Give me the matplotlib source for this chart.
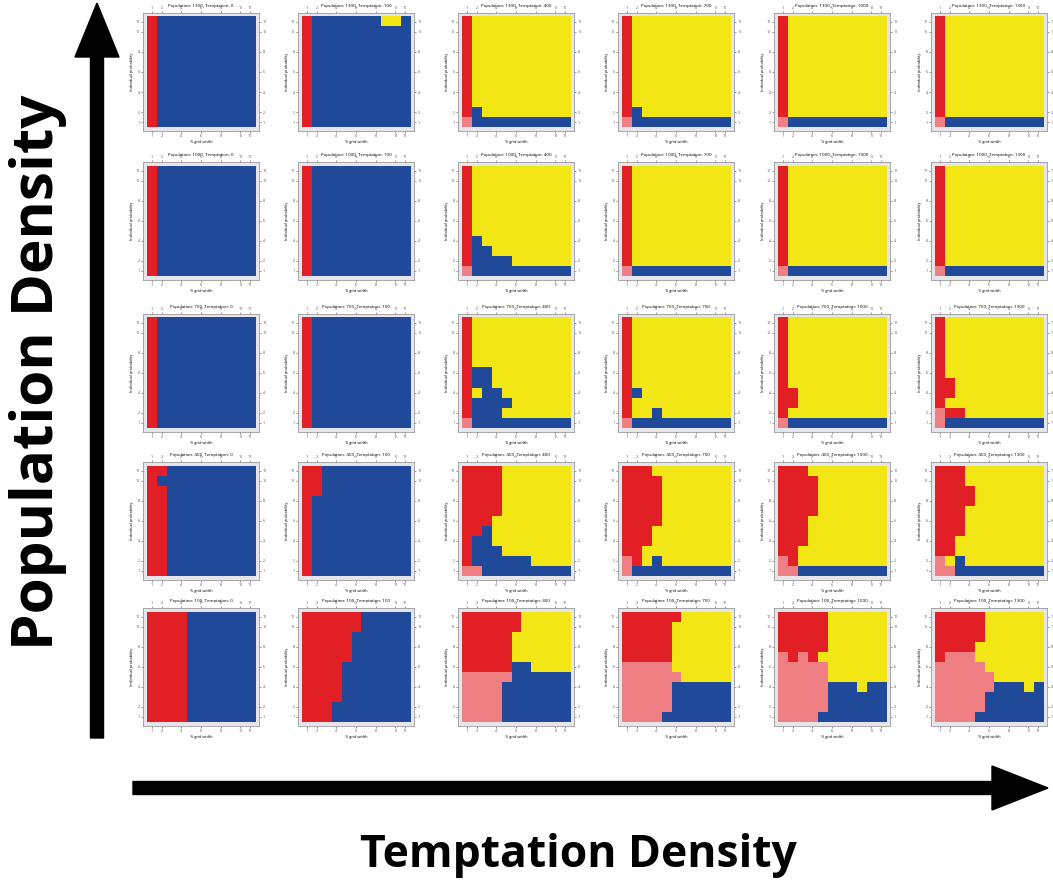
import numpy as np
import matplotlib
matplotlib.use("Agg")
import matplotlib.pyplot as plt
from matplotlib.colors import ListedColormap
from matplotlib.patches import FancyArrow

# Outcome maps: 11 rows (top to bottom) of 11 cells, rows split by "/"
# B = blue, Y = yellow, R = red, P = pink
populations = [1300, 1000, 700, 400, 100]
temptations = [0, 100, 400, 700, 1000, 1300]

maps_pop1300 = [
    "RBBBBBBBBBB/RBBBBBBBBBB/RBBBBBBBBBB/RBBBBBBBBBB/RBBBBBBBBBB/RBBBBBBBBBB/RBBBBBBBBBB/RBBBBBBBBBB/RBBBBBBBBBB/RBBBBBBBBBB/RBBBBBBBBBB",
    "RBBBBBBBYYB/RBBBBBBBBBB/RBBBBBBBBBB/RBBBBBBBBBB/RBBBBBBBBBB/RBBBBBBBBBB/RBBBBBBBBBB/RBBBBBBBBBB/RBBBBBBBBBB/RBBBBBBBBBB/RBBBBBBBBBB",
    "RYYYYYYYYYY/RYYYYYYYYYY/RYYYYYYYYYY/RYYYYYYYYYY/RYYYYYYYYYY/RYYYYYYYYYY/RYYYYYYYYYY/RYYYYYYYYYY/RYYYYYYYYYY/RBYYYYYYYYY/PBBBBBBBBBB",
    "RYYYYYYYYYY/RYYYYYYYYYY/RYYYYYYYYYY/RYYYYYYYYYY/RYYYYYYYYYY/RYYYYYYYYYY/RYYYYYYYYYY/RYYYYYYYYYY/RYYYYYYYYYY/RBYYYYYYYYY/PBBBBBBBBBB",
    "RYYYYYYYYYY/RYYYYYYYYYY/RYYYYYYYYYY/RYYYYYYYYYY/RYYYYYYYYYY/RYYYYYYYYYY/RYYYYYYYYYY/RYYYYYYYYYY/RYYYYYYYYYY/RYYYYYYYYYY/PBBBBBBBBBB",
    "RYYYYYYYYYY/RYYYYYYYYYY/RYYYYYYYYYY/RYYYYYYYYYY/RYYYYYYYYYY/RYYYYYYYYYY/RYYYYYYYYYY/RYYYYYYYYYY/RYYYYYYYYYY/RYYYYYYYYYY/PBBBBBBBBBB",
]
maps_pop1000 = [
    "RBBBBBBBBBB/RBBBBBBBBBB/RBBBBBBBBBB/RBBBBBBBBBB/RBBBBBBBBBB/RBBBBBBBBBB/RBBBBBBBBBB/RBBBBBBBBBB/RBBBBBBBBBB/RBBBBBBBBBB/RBBBBBBBBBB",
    "RBBBBBBBBBB/RBBBBBBBBBB/RBBBBBBBBBB/RBBBBBBBBBB/RBBBBBBBBBB/RBBBBBBBBBB/RBBBBBBBBBB/RBBBBBBBBBB/RBBBBBBBBBB/RBBBBBBBBBB/RBBBBBBBBBB",
    "RYYYYYYYYYY/RYYYYYYYYYY/RYYYYYYYYYY/RYYYYYYYYYY/RYYYYYYYYYY/RYYYYYYYYYY/RYYYYYYYYYY/RBYYYYYYYYY/RBBYYYYYYYY/RBBBBYYYYYY/PBBBBBBBBBB",
    "RYYYYYYYYYY/RYYYYYYYYYY/RYYYYYYYYYY/RYYYYYYYYYY/RYYYYYYYYYY/RYYYYYYYYYY/RYYYYYYYYYY/RYYYYYYYYYY/RYYYYYYYYYY/RYYYYYYYYYY/PBBBBBBBBBB",
    "RYYYYYYYYYY/RYYYYYYYYYY/RYYYYYYYYYY/RYYYYYYYYYY/RYYYYYYYYYY/RYYYYYYYYYY/RYYYYYYYYYY/RYYYYYYYYYY/RYYYYYYYYYY/RYYYYYYYYYY/PBBBBBBBBBB",
    "RYYYYYYYYYY/RYYYYYYYYYY/RYYYYYYYYYY/RYYYYYYYYYY/RYYYYYYYYYY/RYYYYYYYYYY/RYYYYYYYYYY/RYYYYYYYYYY/RYYYYYYYYYY/RYYYYYYYYYY/PBBBBBBBBBB",
]
maps_pop700 = [
    "RBBBBBBBBBB/RBBBBBBBBBB/RBBBBBBBBBB/RBBBBBBBBBB/RBBBBBBBBBB/RBBBBBBBBBB/RBBBBBBBBBB/RBBBBBBBBBB/RBBBBBBBBBB/RBBBBBBBBBB/RBBBBBBBBBB",
    "RBBBBBBBBBB/RBBBBBBBBBB/RBBBBBBBBBB/RBBBBBBBBBB/RBBBBBBBBBB/RBBBBBBBBBB/RBBBBBBBBBB/RBBBBBBBBBB/RBBBBBBBBBB/RBBBBBBBBBB/RBBBBBBBBBB",
    "RYYYYYYYYYY/RYYYYYYYYYY/RYYYYYYYYYY/RYYYYYYYYYY/RYYYYYYYYYY/RBBYYYYYYYY/RBBYYYYYYYY/RYBBYYYYYYY/RBBBBYYYYYY/RBBBYYYYYYY/PBBBBBBBBBB",
    "RYYYYYYYYYY/RYYYYYYYYYY/RYYYYYYYYYY/RYYYYYYYYYY/RYYYYYYYYYY/RYYYYYYYYYY/RYYYYYYYYYY/RBYYYYYYYYY/RYYYYYYYYYY/RYYBYYYYYYY/PBBBBBBBBBB",
    "RYYYYYYYYYY/RYYYYYYYYYY/RYYYYYYYYYY/RYYYYYYYYYY/RYYYYYYYYYY/RYYYYYYYYYY/RYYYYYYYYYY/RRYYYYYYYYY/RRYYYYYYYYY/RYYYYYYYYYY/PBBBBBBBBBB",
    "RYYYYYYYYYY/RYYYYYYYYYY/RYYYYYYYYYY/RYYYYYYYYYY/RYYYYYYYYYY/RYYYYYYYYYY/RRYYYYYYYYY/RRYYYYYYYYY/RYYYYYYYYYY/PRRYYYYYYYY/PBBBBBBBBBB",
]
maps_pop400 = [
    "RRBBBBBBBBB/RBBBBBBBBBB/RRBBBBBBBBB/RRBBBBBBBBB/RRBBBBBBBBB/RRBBBBBBBBB/RRBBBBBBBBB/RRBBBBBBBBB/RRBBBBBBBBB/RRBBBBBBBBB/RRBBBBBBBBB",
    "RRBBBBBBBBB/RRBBBBBBBBB/RRBBBBBBBBB/RBBBBBBBBBB/RBBBBBBBBBB/RBBBBBBBBBB/RBBBBBBBBBB/RBBBBBBBBBB/RBBBBBBBBBB/RBBBBBBBBBB/RBBBBBBBBBB",
    "RRRRYYYYYYY/RRRRYYYYYYY/RRRRYYYYYYY/RRRRYYYYYYY/RRRRYYYYYYY/RRRYYYYYYYY/RRBYYYYYYYY/RBBYYYYYYYY/RBBBYYYYYYY/RBBBBBBYYYY/PPBBBBBBBBB",
    "RRRYYYYYYYY/RRRRYYYYYYY/RRRRYYYYYYY/RRRRYYYYYYY/RRRRYYYYYYY/RRRRYYYYYYY/RRRYYYYYYYY/RRRYYYYYYYY/RRYYYYYYYYY/PRYBYYYYYYY/PBBBBBBBBBB",
    "RRRYYYYYYYY/RRRRYYYYYYY/RRRRYYYYYYY/RRRRYYYYYYY/RRRRYYYYYYY/RRRYYYYYYYY/RRRYYYYYYYY/RRRYYYYYYYY/RRYYYYYYYYY/PRYYYYYYYYY/PPBBBBBBBBB",
    "RRRYYYYYYYY/RRRYYYYYYYY/RRRRYYYYYYY/RRRRYYYYYYY/RRRYYYYYYYY/RRRYYYYYYYY/RRRYYYYYYYY/RRYYYYYYYYY/RRYYYYYYYYY/PYBYYYYYYYY/PPBBBBBBBBB",
]
maps_pop100 = [
    "RRRRBBBBBBB/RRRRBBBBBBB/RRRRBBBBBBB/RRRRBBBBBBB/RRRRBBBBBBB/RRRRBBBBBBB/RRRRBBBBBBB/RRRRBBBBBBB/RRRRBBBBBBB/RRRRBBBBBBB/RRRRBBBBBBB",
    "RRRRRRBBBBB/RRRRRRBBBBB/RRRRRBBBBBB/RRRRRBBBBBB/RRRRRBBBBBB/RRRRBBBBBBB/RRRRBBBBBBB/RRRRBBBBBBB/RRRRBBBBBBB/RRRBBBBBBBB/RRRBBBBBBBB",
    "RRRRRRYYYYY/RRRRRRYYYYY/RRRRRYYYYYY/RRRRRYYYYYY/RRRRRYYYYYY/RRRRRBBYYYY/PPPPPBBBBBB/PPPPBBBBBBB/PPPPBBBBBBB/PPPPBBBBBBB/PPPPBBBBBBB",
    "RRRRRRYYYYY/RRRRRYYYYYY/RRRRRYYYYYY/RRRRRYYYYYY/RRRRRYYYYYY/PPPPPYYYYYY/PPPPPPYYYYY/PPPPPBBBBBB/PPPPPBBBBBB/PPPPPBBBBBB/PPPPBBBBBBB",
    "RRRRRYYYYYY/RRRRRYYYYYY/RRRRRYYYYYY/RRRRRYYYYYY/PRPRYYYYYYY/PPPPPYYYYYY/PPPPPYYYYYY/PPPPPBBBYBB/PPPPPBBBBBB/PPPPPBBBBBB/PPPPBBBBBBB",
    "RRRRRYYYYYY/RRRRRYYYYYY/RRRRRYYYYYY/RRRRYYYYYYY/RPPPYYYYYYY/PPPPPYYYYYY/PPPPPPYYYYY/PPPPPPBBBYB/PPPPPBBBBBB/PPPPPBBBBBB/PPPPBBBBBBB",
]
all_maps = [maps_pop1300, maps_pop1000, maps_pop700, maps_pop400, maps_pop100]

codes = {"B": 0, "Y": 1, "R": 2, "P": 3}
cmap = ListedColormap(["#21499a", "#f2e614", "#e31f26", "#ef7f82"])
tick_cells = [0, 1, 3, 5, 7, 9, 10]
tick_labels = ["1", "2", "4", "6", "8", "10", "11"]

W, H = 1053, 883
fig = plt.figure(figsize=(W / 100, H / 100), dpi=100)
plt.rcParams["font.family"] = ["Open Sans", "DejaVu Sans"]

# panel frame positions in pixels
col_left = [143, 298, 458, 618, 774, 931]
row_top = [13, 162, 314, 462, 608]
pw, ph = 116, 118

for r, pop in enumerate(populations):
    for c, temp in enumerate(temptations):
        grid = np.array([[codes[ch] for ch in row] for row in all_maps[r][c].split("/")])
        ax = fig.add_axes([col_left[c] / W, 1 - (row_top[r] + ph) / H, pw / W, ph / H])
        ax.set_facecolor("#e4e6ec")
        ax.imshow(grid, cmap=cmap, vmin=-0.5, vmax=3.5, interpolation="nearest",
                  extent=(-0.5, 10.5, 10.5, -0.5), aspect="auto")
        ax.set_xlim(-0.9, 10.9)
        ax.set_ylim(10.9, -0.9)
        ax.set_xticks(tick_cells)
        ax.set_xticklabels(tick_labels)
        ax.set_yticks(tick_cells)
        ax.set_yticklabels(tick_labels[::-1])
        ax.tick_params(labelsize=2.5, length=1.5, width=0.4, pad=1, colors="#444444",
                       top=True, right=True, labeltop=True, labelright=True)
        for s in ax.spines.values():
            s.set_color("#9a9a9a")
            s.set_linewidth(0.6)
        ax.set_title(f"Population: {pop}, Temptation: {temp}", fontsize=3.2, y=1.055, pad=0)
        ax.set_xlabel("% grid width", fontsize=2.8, labelpad=1)
        ax.set_ylabel("Individual probability", fontsize=2.8, labelpad=1)

# big axis arrows and labels
over = fig.add_axes([0, 0, 1, 1], zorder=-1)
over.set_xlim(0, W)
over.set_ylim(H, 0)
over.axis("off")
over.add_patch(FancyArrow(97, 738, 0, -735, width=13, head_width=44, head_length=54,
                          length_includes_head=True, color="black"))
over.add_patch(FancyArrow(133, 788, 915, 0, width=13, head_width=44, head_length=56,
                          length_includes_head=True, color="black"))
over.text(38, 372, "Population Density", rotation=90, ha="center", va="center",
          fontsize=42, fontweight="bold")
over.text(578, 855, "Temptation Density", ha="center", va="center",
          fontsize=32, fontweight="bold")

fig.savefig("out.png", dpi=100, facecolor="white")
